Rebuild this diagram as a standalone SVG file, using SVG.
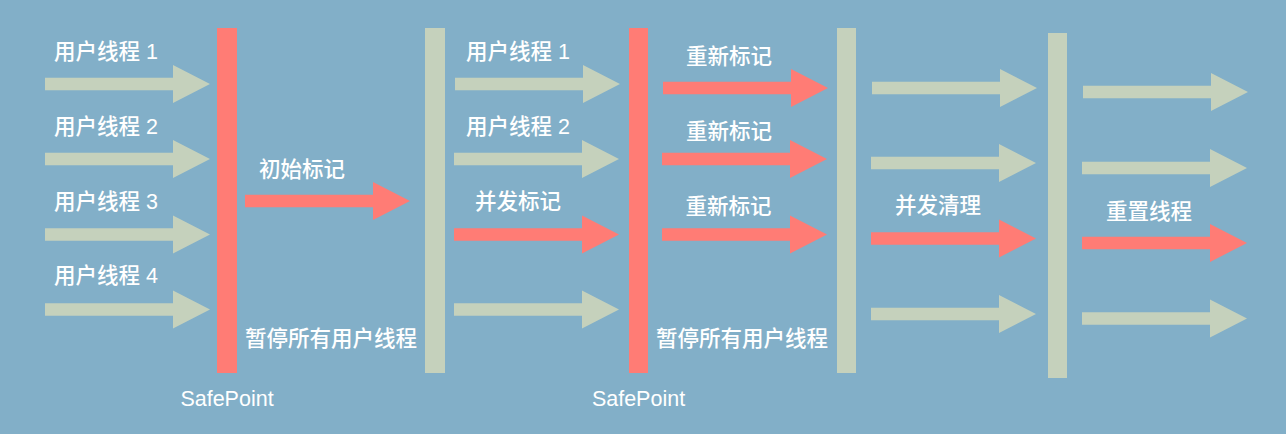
<svg xmlns="http://www.w3.org/2000/svg" xmlns:xlink="http://www.w3.org/1999/xlink" width="1286" height="434" viewBox="0 0 1286 434">
<style>
.bg{fill:#82afc8}
.red{fill:#ff7c75}
.grn{fill:#c5d1bc}
.t{fill:#ffffff;font-family:"Liberation Sans","Noto Sans CJK SC",sans-serif;font-size:21.5px;font-weight:500}
.m{text-anchor:middle}
</style>
<defs>
<path id="arr" d="M0,-6.25 H128 V-19 L165,0 L128,19 V6.25 H0 Z"/>
</defs>
<rect class="bg" x="0" y="0" width="1286" height="434"/>
<g id="bars">
<g id="safepoint1"><rect class="red" x="217" y="28" width="20" height="345"/><text class="t m" x="227" y="405.5">SafePoint</text></g>
<g id="bar2"><rect class="grn" x="425" y="28" width="20" height="345"/></g>
<g id="safepoint2"><rect class="red" x="629" y="28" width="19" height="345"/><text class="t m" x="638.5" y="405.5">SafePoint</text></g>
<g id="bar4"><rect class="grn" x="837" y="28" width="19" height="345"/></g>
<g id="bar5"><rect class="grn" x="1048" y="33" width="19" height="345"/></g>
</g>
<g id="connectors">
<use href="#arr" class="grn" x="45" y="84"/>
<use href="#arr" class="grn" x="45" y="159"/>
<use href="#arr" class="grn" x="45" y="234.5"/>
<use href="#arr" class="grn" x="45" y="309.5"/>
<use href="#arr" class="red" x="245" y="201"/>
<use href="#arr" class="grn" x="455" y="84"/>
<use href="#arr" class="grn" x="454" y="159"/>
<use href="#arr" class="red" x="454" y="234.5"/>
<use href="#arr" class="grn" x="454" y="309.5"/>
<use href="#arr" class="red" x="663" y="88"/>
<use href="#arr" class="red" x="662" y="159"/>
<use href="#arr" class="red" x="662" y="234.5"/>
<use href="#arr" class="grn" x="872" y="88"/>
<use href="#arr" class="grn" x="871" y="163"/>
<use href="#arr" class="red" x="871" y="238.5"/>
<use href="#arr" class="grn" x="871" y="314"/>
<use href="#arr" class="grn" x="1083" y="92"/>
<use href="#arr" class="grn" x="1082" y="168"/>
<use href="#arr" class="red" x="1082" y="243"/>
<use href="#arr" class="grn" x="1082" y="318.5"/>
</g>
<g id="labels">
<text class="t" x="54" y="58.5">用户线程 1</text>
<text class="t" x="54" y="133.5">用户线程 2</text>
<text class="t" x="54" y="208.5">用户线程 3</text>
<text class="t" x="54" y="283">用户线程 4</text>
<text class="t" x="259" y="177">初始标记</text>
<text class="t" x="245" y="346">暂停所有用户线程</text>
<text class="t" x="466" y="58.5">用户线程 1</text>
<text class="t" x="466" y="133.5">用户线程 2</text>
<text class="t" x="475" y="208.5">并发标记</text>
<text class="t" x="686" y="63.5">重新标记</text>
<text class="t" x="686" y="138.5">重新标记</text>
<text class="t" x="685.5" y="213.5">重新标记</text>
<text class="t" x="656" y="346">暂停所有用户线程</text>
<text class="t" x="895" y="213">并发清理</text>
<text class="t" x="1106" y="218.5">重置线程</text>
</g>
</svg>
